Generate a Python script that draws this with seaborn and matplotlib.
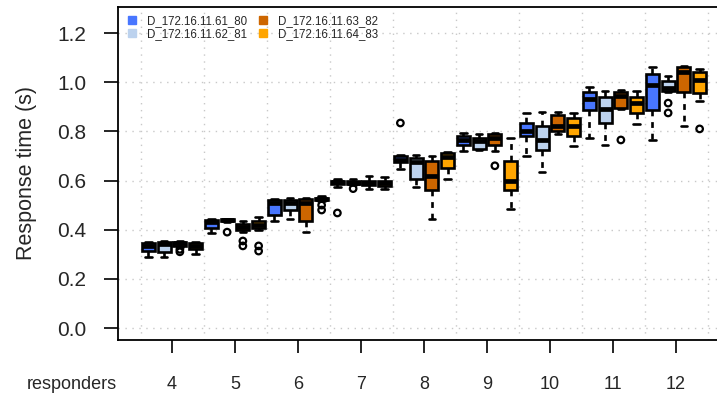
import numpy as np
import pandas as pd
import matplotlib
matplotlib.use("Agg")
import matplotlib.pyplot as plt
from matplotlib.lines import Line2D
import seaborn as sns

# Number of responders on the x axis
responders = [4, 5, 6, 7, 8, 9, 10, 11, 12]

servers = ["D_172.16.11.61_80", "D_172.16.11.62_81",
           "D_172.16.11.63_82", "D_172.16.11.64_83"]
colors = ["#4876FF", "#BCD2EE", "#CD6600", "#FFA500"]

# Box summaries per responder count: (lower whisker, Q1, median, Q3, upper whisker)
stats_61_80 = [
    (0.290, 0.315, 0.335, 0.345, 0.350),
    (0.385, 0.405, 0.430, 0.440, 0.445),
    (0.435, 0.460, 0.510, 0.520, 0.525),
    (0.575, 0.585, 0.595, 0.600, 0.605),
    (0.645, 0.675, 0.685, 0.700, 0.705),
    (0.720, 0.745, 0.765, 0.780, 0.795),
    (0.700, 0.780, 0.800, 0.835, 0.875),
    (0.775, 0.885, 0.930, 0.960, 0.980),
    (0.765, 0.885, 0.990, 1.035, 1.060),
]
stats_62_81 = [
    (0.290, 0.310, 0.340, 0.350, 0.355),
    (0.430, 0.435, 0.440, 0.442, 0.445),
    (0.445, 0.480, 0.510, 0.520, 0.530),
    (0.580, 0.585, 0.590, 0.600, 0.605),
    (0.575, 0.605, 0.675, 0.690, 0.705),
    (0.725, 0.730, 0.760, 0.775, 0.790),
    (0.635, 0.725, 0.765, 0.820, 0.880),
    (0.745, 0.835, 0.890, 0.940, 0.965),
    (0.960, 0.965, 0.975, 1.005, 1.025),
]
stats_63_82 = [
    (0.330, 0.335, 0.345, 0.350, 0.355),
    (0.390, 0.398, 0.410, 0.425, 0.435),
    (0.390, 0.435, 0.510, 0.525, 0.530),
    (0.565, 0.582, 0.590, 0.600, 0.620),
    (0.445, 0.560, 0.620, 0.680, 0.700),
    (0.720, 0.745, 0.775, 0.790, 0.795),
    (0.790, 0.800, 0.820, 0.865, 0.880),
    (0.890, 0.895, 0.945, 0.960, 0.970),
    (0.820, 0.960, 1.040, 1.060, 1.065),
]
stats_64_83 = [
    (0.300, 0.320, 0.335, 0.345, 0.350),
    (0.400, 0.405, 0.420, 0.435, 0.450),
    (0.515, 0.520, 0.525, 0.530, 0.535),
    (0.565, 0.578, 0.590, 0.600, 0.615),
    (0.605, 0.650, 0.695, 0.710, 0.715),
    (0.485, 0.560, 0.600, 0.680, 0.775),
    (0.740, 0.780, 0.820, 0.855, 0.875),
    (0.830, 0.875, 0.915, 0.940, 0.965),
    (0.925, 0.955, 1.010, 1.040, 1.055),
]
all_stats = [stats_61_80, stats_62_81, stats_63_82, stats_64_83]

# Points beyond the whiskers: (responders, server index, value)
outliers = [
    (4, 2, 0.320), (4, 2, 0.310),
    (5, 1, 0.390), (5, 2, 0.354), (5, 2, 0.334),
    (5, 3, 0.334), (5, 3, 0.313),
    (6, 3, 0.500), (6, 3, 0.480),
    (7, 0, 0.468), (7, 1, 0.567),
    (8, 0, 0.834),
    (9, 2, 0.660),
    (11, 2, 0.765),
    (12, 1, 0.915), (12, 1, 0.875),
    (12, 3, 0.810),
]

# Expand each five-number summary into a sample whose quartiles reproduce it
rows = []
for s_idx, stats in enumerate(all_stats):
    for r, (lo, q1, med, q3, hi) in zip(responders, stats):
        sample = [lo] + [q1] * 10 + [med] * 5 + [q3] * 10 + [hi]
        for v in sample:
            rows.append({"responders": r, "server": servers[s_idx], "time": v})
df = pd.DataFrame(rows)

sns.set_theme(style="white")
plt.rcParams["font.family"] = ["Liberation Sans", "DejaVu Sans"]

fig = plt.figure(figsize=(7.17, 3.96), dpi=100)
ax = fig.add_axes([118 / 717, 56 / 396, 1 - 118 / 717, (340 - 7) / 396])

# Background dotted grid: horizontal at y ticks, vertical between groups
yticks = [0.0, 0.2, 0.4, 0.6, 0.8, 1.0, 1.2]
for yv in yticks:
    ax.axhline(yv, color="#c8c8c8", lw=1.0, ls=(0, (1, 4)), zorder=0)
for b in np.arange(responders[0] - 0.5, responders[-1] + 1.0, 1.0):
    ax.axvline(b, color="#c8c8c8", lw=1.0, ls=(0, (1, 4)), zorder=0)

sns.boxplot(
    data=df, x="responders", y="time", hue="server", hue_order=servers,
    palette=colors, native_scale=True, width=1.0, gap=0.16,
    saturation=1, whis=(0, 100), fliersize=0, linecolor="black",
    linewidth=1.9,
    medianprops=dict(linewidth=3.4, color="black", solid_capstyle="butt"),
    whiskerprops=dict(linestyle=(0, (2.2, 2.2)), linewidth=1.9),
    capprops=dict(linewidth=1.9),
    legend=False, ax=ax,
)

# Outlying points placed at the dodged box positions
out_df = pd.DataFrame(outliers, columns=["responders", "sidx", "time"])
out_df["xpos"] = out_df["responders"] + (out_df["sidx"] - 1.5) * 0.25
sns.scatterplot(data=out_df, x="xpos", y="time", marker="o", s=22,
                facecolor="none", edgecolor="black", linewidth=1.6,
                legend=False, ax=ax, zorder=5)

ax.set_xlim(3.5 - 22.5 / 63, 12.5 + 9.5 / 63)
ax.set_ylim(-12 / 245.8, 321 / 245.8)
ax.set_yticks(yticks)
ax.set_yticklabels([f"{v:.1f}" for v in yticks])
ax.set_xticks(responders)
ax.set_xticklabels([str(r) for r in responders])
ax.set_xlabel("")
ax.set_ylabel("Response time (s)", fontsize=15.5, labelpad=14)

ax.tick_params(axis="y", direction="out", length=10, width=1.2,
               pad=13, labelsize=15, left=True, color="black")
ax.tick_params(axis="x", direction="out", length=9, width=1.2,
               pad=17, labelsize=13, bottom=True, color="black")

for side in ["left", "top", "bottom"]:
    ax.spines[side].set_visible(True)
    ax.spines[side].set_color("black")
    ax.spines[side].set_linewidth(1.3)
ax.spines["right"].set_visible(False)

ax.text(-0.077, -0.133, "responders", transform=ax.transAxes,
        ha="center", va="center", fontsize=13)

handles = [Line2D([0], [0], marker="s", color="none", markerfacecolor=c,
                  markeredgecolor=c, markersize=6) for c in colors]
ax.legend(handles, servers, ncol=2, loc="upper left",
          bbox_to_anchor=(0.0, 1.0), frameon=False, fontsize=8.3,
          handlelength=1.0, handletextpad=0.8, columnspacing=0.9,
          labelspacing=0.12, borderaxespad=0.3)

fig.savefig("out.png", dpi=100)
